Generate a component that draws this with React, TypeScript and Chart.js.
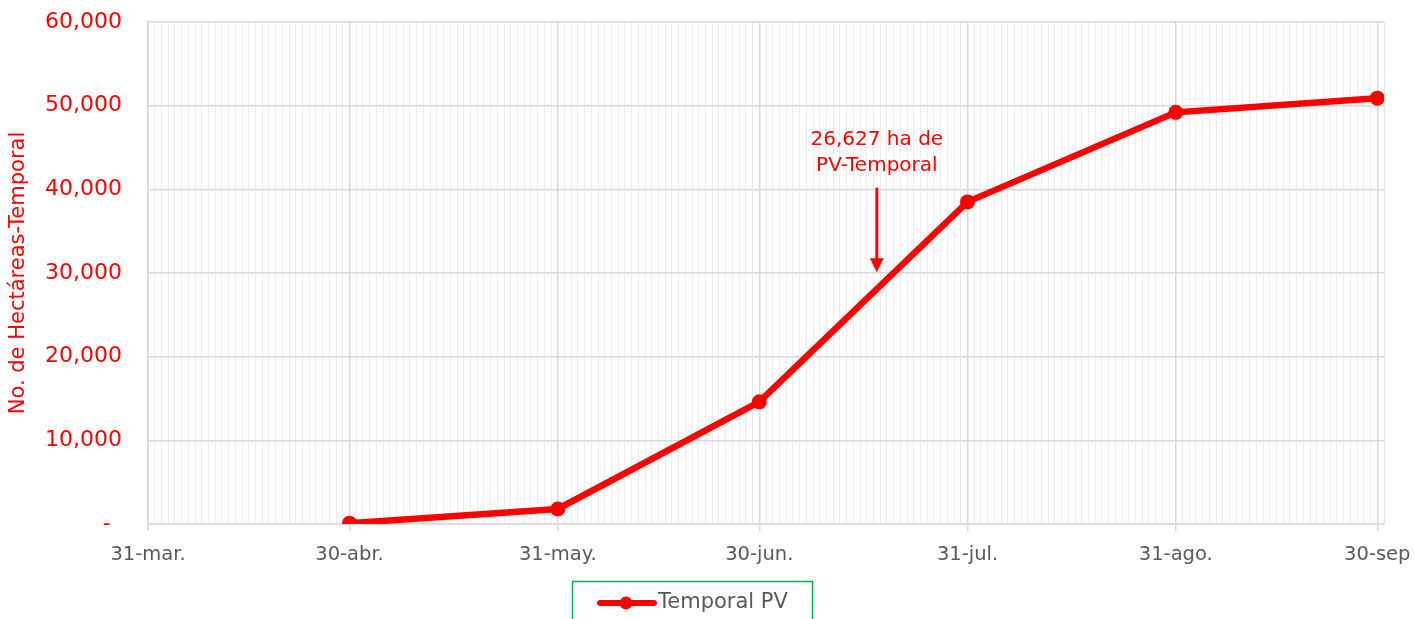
import React, { useEffect, useRef } from "react";
import { Chart, registerables } from "chart.js";

Chart.register(...registerables);

// Days counted from 31-mar.
const tickDays = [0, 30, 61, 91, 122, 153, 183];
const tickLabels = ["31-mar.", "30-abr.", "31-may.", "30-jun.", "31-jul.", "31-ago.", "30-sep"];
const pointDays = [30, 61, 91, 122, 153, 183];
const pointValues = [100, 1800, 14600, 38500, 49200, 50900];
const seriesName = "Temporal PV";
const yTitle = "No. de Hectáreas-Temporal";
const annotationLines = ["26,627 ha de", "PV-Temporal"];
const annotationDay = 108.5;
const annotationTextValues = [45900, 42800];
const annotationArrowValues = [40200, 30100];
const X_MAX = 184;
const Y_MAX = 60000;
const Y_STEP = 10000;

const FONT = "'DejaVu Sans', sans-serif";
const RED = "#ff0000";
const GREY_TEXT = "#595959";

const annotationPlugin = {
  id: "pvAnnotation",
  afterDatasetsDraw(chart: any) {
    const { ctx, scales } = chart;
    const x = scales.x.getPixelForValue(annotationDay);
    ctx.save();
    ctx.fillStyle = RED;
    ctx.font = `20px ${FONT}`;
    ctx.textAlign = "center";
    ctx.textBaseline = "middle";
    annotationLines.forEach((t, i) => {
      ctx.fillText(t, x, scales.y.getPixelForValue(annotationTextValues[i]));
    });
    const y0 = scales.y.getPixelForValue(annotationArrowValues[0]);
    const y1 = scales.y.getPixelForValue(annotationArrowValues[1]);
    ctx.strokeStyle = RED;
    ctx.lineWidth = 3;
    ctx.beginPath();
    ctx.moveTo(x, y0);
    ctx.lineTo(x, y1 - 12);
    ctx.stroke();
    ctx.beginPath();
    ctx.moveTo(x - 7, y1 - 14);
    ctx.lineTo(x + 7, y1 - 14);
    ctx.lineTo(x, y1);
    ctx.closePath();
    ctx.fill();
    ctx.restore();
  },
};

const legendPlugin = {
  id: "boxedLegend",
  afterDraw(chart: any) {
    const { ctx, chartArea } = chart;
    const cx = chart.width / 2 - 15;
    const top = chartArea.bottom + 57;
    const w = 240;
    const h = 44;
    const left = cx - w / 2;
    ctx.save();
    ctx.strokeStyle = "#00b050";
    ctx.lineWidth = 1.5;
    ctx.strokeRect(left + 0.5, top + 0.5, w, h);
    const ly = top + 22;
    ctx.strokeStyle = RED;
    ctx.lineWidth = 6;
    ctx.lineCap = "round";
    ctx.beginPath();
    ctx.moveTo(left + 28, ly);
    ctx.lineTo(left + 82, ly);
    ctx.stroke();
    ctx.fillStyle = RED;
    ctx.beginPath();
    ctx.arc(left + 54, ly, 6.5, 0, Math.PI * 2);
    ctx.fill();
    ctx.fillStyle = GREY_TEXT;
    ctx.font = `21px ${FONT}`;
    ctx.textAlign = "left";
    ctx.textBaseline = "middle";
    ctx.fillText(seriesName, left + 86, ly);
    ctx.restore();
  },
};

export default function App() {
  const ref = useRef<HTMLCanvasElement | null>(null);

  useEffect(() => {
    document.body.style.margin = "0";
    const canvas = ref.current;
    if (!canvas) return;
    const chart = new Chart(canvas, {
      type: "line",
      data: {
        datasets: [
          {
            label: seriesName,
            data: pointDays.map((d, i) => ({ x: d, y: pointValues[i] })),
            borderColor: RED,
            backgroundColor: RED,
            borderWidth: 6.5,
            pointRadius: 7.5,
            pointBorderWidth: 0,
            pointBackgroundColor: RED,
            tension: 0,
          },
        ],
      },
      options: {
        responsive: false,
        animation: false,
        layout: { padding: { top: 22, left: 0, right: 30, bottom: 0 } },
        plugins: {
          legend: { display: false },
          tooltip: { enabled: false },
        },
        scales: {
          x: {
            type: "linear",
            min: 0,
            max: X_MAX,
            afterBuildTicks: (scale: any) => {
              const t = [];
              for (let d = 0; d <= X_MAX; d++) t.push({ value: d });
              scale.ticks = t;
            },
            afterFit: (scale: any) => {
              scale.height = 95;
            },
            ticks: {
              autoSkip: false,
              maxRotation: 0,
              minRotation: 0,
              padding: 12,
              color: GREY_TEXT,
              font: { family: FONT, size: 19.5 },
              callback: (v: any) => {
                const i = tickDays.indexOf(Number(v));
                return i >= 0 ? tickLabels[i] : "";
              },
            },
            grid: {
              color: (c: any) =>
                tickDays.includes(c.tick?.value) ? "#d9d9d9" : c.tick?.value === X_MAX ? "#e3e3e3" : "#ededed",
              lineWidth: (c: any) => (tickDays.includes(c.tick?.value) ? 1.5 : 1),
              tickColor: (c: any) => (tickDays.includes(c.tick?.value) ? "#d9d9d9" : "rgba(0,0,0,0)"),
              tickLength: 7,
            },
            border: { color: "#d9d9d9", width: 1.5 },
          },
          y: {
            min: 0,
            max: Y_MAX,
            afterFit: (scale: any) => {
              scale.width = 148;
              scale.paddingTop = 0;
              scale.paddingBottom = 0;
            },
            ticks: {
              stepSize: Y_STEP,
              padding: 26,
              color: RED,
              font: { family: FONT, size: 22 },
              callback: (v: any) => (Number(v) === 0 ? "-\u00a0\u2009" : Number(v).toLocaleString("en-US")),
            },
            grid: { color: "#d9d9d9", lineWidth: 1.5, drawTicks: false },
            border: { color: "#d9d9d9", width: 1.5 },
            title: {
              display: true,
              text: yTitle,
              color: RED,
              font: { family: FONT, size: 21 },
              padding: { top: 6, bottom: 0 },
            },
          },
        },
      },
      plugins: [annotationPlugin, legendPlugin],
    });
    return () => chart.destroy();
  }, []);

  return (
    <div style={{ width: 1414, height: 619 }}>
      <canvas ref={ref} width={1414} height={619} />
    </div>
  );
}
